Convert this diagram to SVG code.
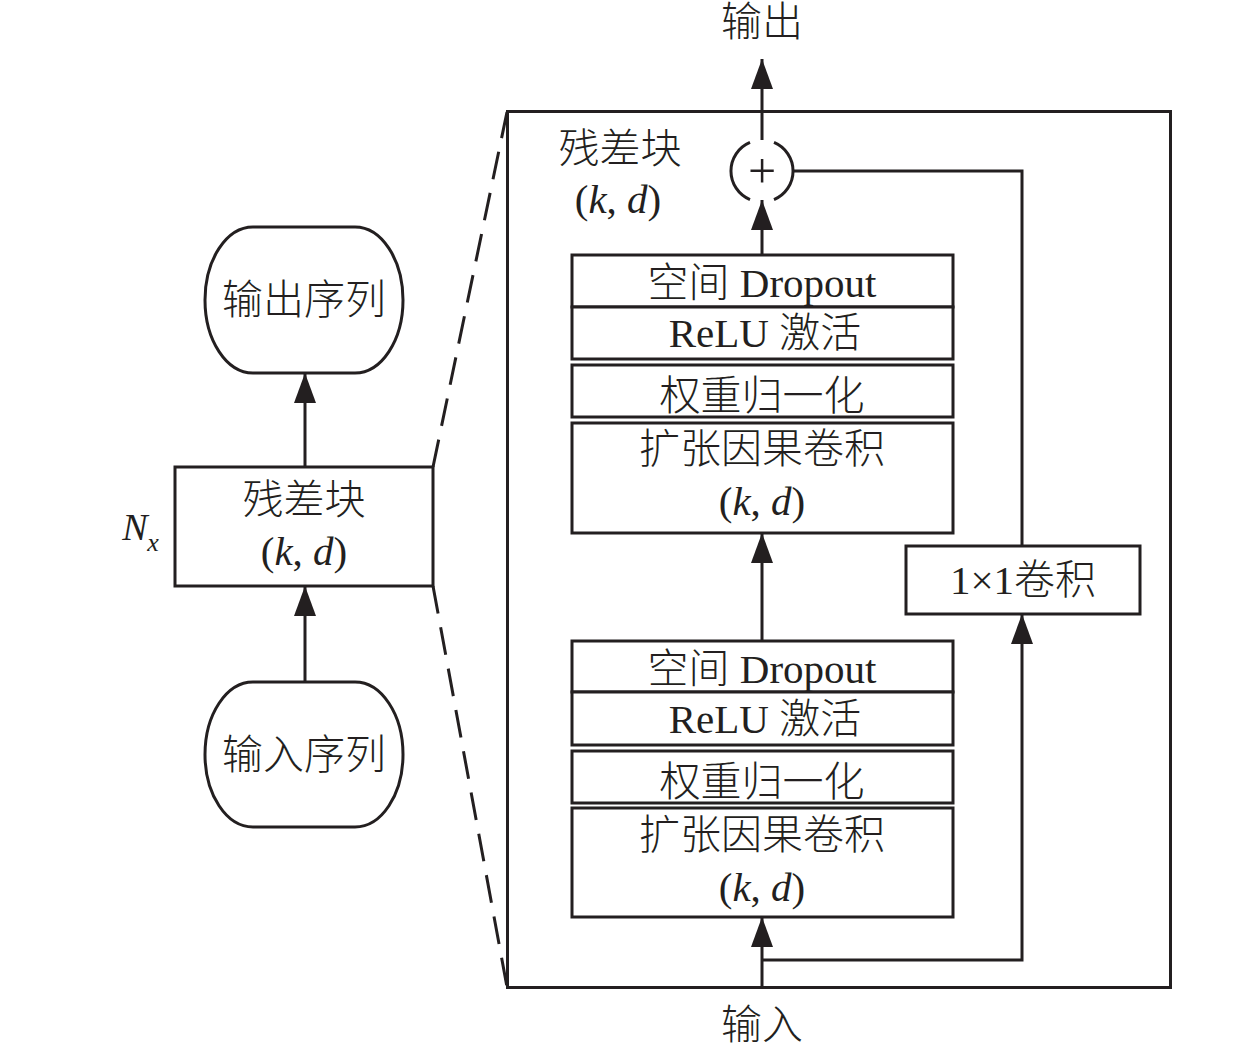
<svg xmlns="http://www.w3.org/2000/svg" width="1260" height="1050" viewBox="0 0 1260 1050">
<style>
.bx{fill:#fff;stroke:#231f20;stroke-width:3}
.ln{fill:none;stroke:#231f20;stroke-width:3}
.ds{fill:none;stroke:#231f20;stroke-width:3;stroke-dasharray:28 14}
.t{font-family:"Liberation Serif","Noto Sans CJK SC",serif;font-size:41px;fill:#231f20;text-anchor:middle;font-weight:300}
.i{font-style:italic}
</style>
<defs>
<marker id="ah" viewBox="0 0 30 22" refX="30" refY="11" markerWidth="30" markerHeight="22" orient="auto" markerUnits="userSpaceOnUse">
<path d="M0,0 L30,11 L0,22 Z" fill="#231f20"/>
</marker>
</defs>
<rect width="1260" height="1050" fill="#fff"/>
<g id="connectors">
<line class="ds" x1="433" y1="467" x2="507" y2="112"/>
<line class="ds" x1="433" y1="586" x2="507" y2="987"/>
<line class="ln" x1="305" y1="682" x2="305" y2="586" marker-end="url(#ah)"/>
<line class="ln" x1="305" y1="467" x2="305" y2="373" marker-end="url(#ah)"/>
<line class="ln" x1="762" y1="140" x2="762" y2="59" marker-end="url(#ah)"/>
<line class="ln" x1="762" y1="255" x2="762" y2="200" marker-end="url(#ah)"/>
<line class="ln" x1="762" y1="641" x2="762" y2="533" marker-end="url(#ah)"/>
<line class="ln" x1="762" y1="987" x2="762" y2="917" marker-end="url(#ah)"/>
<polyline class="ln" points="762,960 1022,960 1022,614" marker-end="url(#ah)"/>
<polyline class="ln" points="1022,546 1022,171 793,171"/>
</g>
<g id="outer-box">
<rect class="ln" x="507.5" y="111.5" width="663" height="876"/>
</g>
<g id="output-label"><text class="t" x="762" y="36">输出</text></g>
<g id="input-label"><text class="t" x="762" y="1039">输入</text></g>
<g id="block-label">
<text class="t" x="620" y="163">残差块</text>
<text class="t" x="618" y="213">(<tspan class="i">k</tspan>, <tspan class="i">d</tspan>)</text>
</g>
<g id="add">
<path class="ln" d="M774,142.4 A31,31 0 0 1 774,199.6 M750,199.6 A31,31 0 0 1 750,142.4"/>
<text class="t" x="762" y="188" style="font-size:50px">+</text>
</g>
<g id="output-seq">
<rect class="bx" x="205" y="227" width="198" height="146" rx="48" ry="73"/>
<text class="t" x="304" y="314">输出序列</text>
</g>
<g id="input-seq">
<rect class="bx" x="205" y="682" width="198" height="145" rx="48" ry="72.5"/>
<text class="t" x="304" y="769">输入序列</text>
</g>
<g id="residual">
<rect class="bx" x="175" y="467" width="258" height="119"/>
<text class="t" x="304" y="514">残差块</text>
<text class="t" x="304" y="565">(<tspan class="i">k</tspan>, <tspan class="i">d</tspan>)</text>
</g>
<g id="nx">
<text class="t i" x="135" y="540" style="font-size:38px">N</text>
<text class="t i" x="153" y="551" style="font-size:26px">x</text>
</g>
<g id="dropout-1">
<rect class="bx" x="572" y="255" width="381" height="52"/>
<text class="t" x="762" y="297">空间 Dropout</text>
</g>
<g id="relu-1">
<rect class="bx" x="572" y="307" width="381" height="52"/>
<text class="t" x="765" y="347">ReLU 激活</text>
</g>
<g id="wn-1">
<rect class="bx" x="572" y="365" width="381" height="52"/>
<text class="t" x="762" y="410">权重归一化</text>
</g>
<g id="conv-1">
<rect class="bx" x="572" y="423" width="381" height="110"/>
<text class="t" x="762" y="463">扩张因果卷积</text>
<text class="t" x="762" y="515">(<tspan class="i">k</tspan>, <tspan class="i">d</tspan>)</text>
</g>
<g id="dropout-2">
<rect class="bx" x="572" y="641" width="381" height="51"/>
<text class="t" x="762" y="683">空间 Dropout</text>
</g>
<g id="relu-2">
<rect class="bx" x="572" y="692" width="381" height="53"/>
<text class="t" x="765" y="733">ReLU 激活</text>
</g>
<g id="wn-2">
<rect class="bx" x="572" y="751" width="381" height="52"/>
<text class="t" x="762" y="796">权重归一化</text>
</g>
<g id="conv-2">
<rect class="bx" x="572" y="808" width="381" height="109"/>
<text class="t" x="762" y="849">扩张因果卷积</text>
<text class="t" x="762" y="901">(<tspan class="i">k</tspan>, <tspan class="i">d</tspan>)</text>
</g>
<g id="conv1x1">
<rect class="bx" x="906" y="546" width="234" height="68"/>
<text class="t" x="1023" y="594">1×1卷积</text>
</g>
</svg>
